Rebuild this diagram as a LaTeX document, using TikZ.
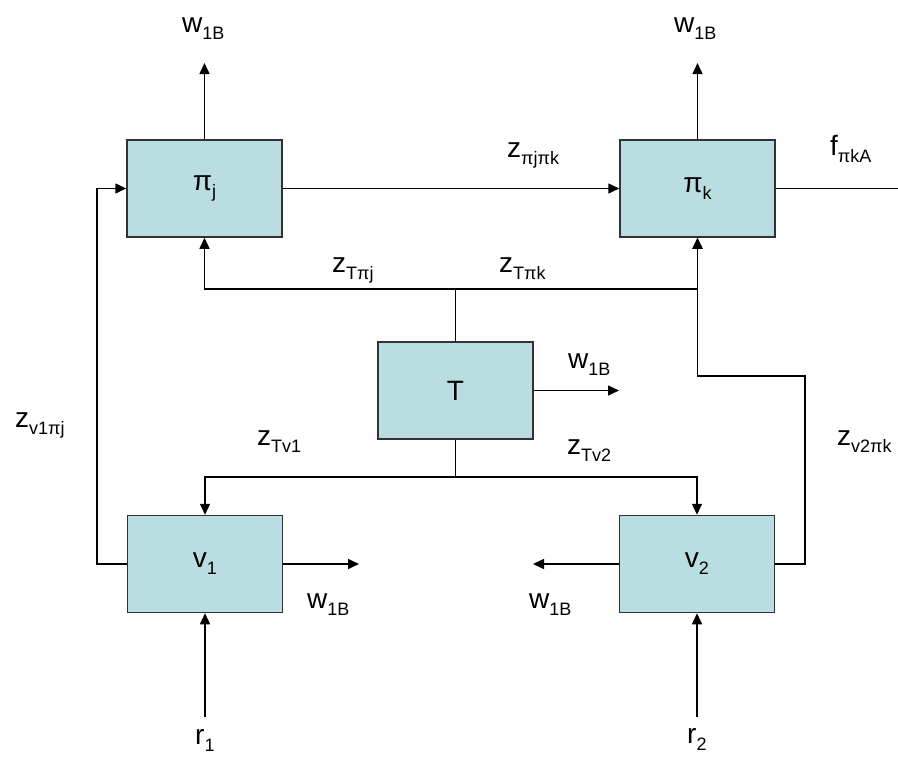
\documentclass[tikz,border=0pt]{standalone}
\usepackage{fontspec}
\setmainfont{Liberation Sans}
\usetikzlibrary{arrows.meta}
\definecolor{boxfill}{RGB}{185,221,225}
\definecolor{boxline}{RGB}{50,50,50}
\newcommand{\sbx}[1]{\raisebox{-0.25em}{\fontsize{18}{18}\selectfont #1}}
\begin{document}
\begin{tikzpicture}[x=1pt,y=-1pt,
 box/.style={draw=boxline, fill=boxfill, line width=1.5pt, minimum width=155pt, minimum height=97pt, inner sep=0pt, font=\fontsize{28}{30}\selectfont},
 lbl/.style={anchor=base west, inner sep=0pt, font=\fontsize{28}{30}\selectfont},
 conn/.style={line width=1.5pt},
 arr/.style={line width=1.5pt, -{Triangle[length=11pt,width=10pt]}}]
\useasboundingbox (0,0) rectangle (898,758);
\node[box] (pj) at (204.5,188.5) {π\sbx{j}};
\node[box] (pk) at (697.5,188.5) {π\sbx{k}};
\node[box] (T) at (455.5,390.5) {T};
\node[box] (v1) at (205,564) {v\sbx{1}};
\node[box] (v2) at (697,564) {v\sbx{2}};
% outputs up
\coordinate (wj) at (204.5,63);
\coordinate (wk) at (697.5,63);
\draw[arr] (pj.north) -- (wj);
\draw[arr] (pk.north) -- (wk);
% pj -> pk
\draw[arr] (pj.east) -- (pk.west);
\coordinate (fe) at (898,188.5);
\draw[conn] (pk.east) -- (fe);
% left loop v1 -> pj
\draw[arr] (v1.west) -- (97,564) -- (97,188.5) -- (pj.west);
% T top
\coordinate (tt) at (455.5,289);
\draw[conn] (T.north) -- (tt);
\draw[arr] (tt) -| (pj.south);
\draw[arr] (tt) -| (pk.south);
% T bottom
\coordinate (tb) at (455.5,477);
\draw[conn] (T.south) -- (tb);
\draw[arr] (tb) -| (v1.north);
\draw[arr] (tb) -| (v2.north);
% T east
\coordinate (te) at (619,390.5);
\draw[arr] (T.east) -- (te);
% v1, v2 side outputs
\coordinate (v1e) at (359,564);
\coordinate (v2w) at (533,564);
\draw[arr] (v1.east) -- (v1e);
\draw[arr] (v2.west) -- (v2w);
% right loop v2 -> pk
\draw[arr] (v2.east) -- (805,564) -- (805,376) -- (697.5,376) -- (pk.south);
% inputs r
\coordinate (r1s) at (205,717);
\coordinate (r2s) at (697,717);
\draw[arr] (r1s) -- (v1.south);
\draw[arr] (r2s) -- (v2.south);
% labels
\node[lbl] (l1) at (182,32) {w\sbx{1B}};
\node[lbl] (l2) at (674,32) {w\sbx{1B}};
\node[lbl] (l3) at (507,157) {z\sbx{πjπk}};
\node[lbl] (l4) at (830,155) {f\sbx{πkA}};
\node[lbl] (l5) at (332,272) {z\sbx{Tπj}};
\node[lbl] (l6) at (499,272) {z\sbx{Tπk}};
\node[lbl] (l7) at (15,427) {z\sbx{v1πj}};
\node[lbl] (l8) at (257,445) {z\sbx{Tv1}};
\node[lbl] (l9) at (568,368) {w\sbx{1B}};
\node[lbl] (l10) at (567,454) {z\sbx{Tv2}};
\node[lbl] (l11) at (837,445) {z\sbx{v2πk}};
\node[lbl] (l12) at (307,608) {w\sbx{1B}};
\node[lbl] (l13) at (529,608) {w\sbx{1B}};
\node[lbl] (l14) at (195,744) {r\sbx{1}};
\node[lbl] (l15) at (687,743) {r\sbx{2}};
\end{tikzpicture}
\end{document}
